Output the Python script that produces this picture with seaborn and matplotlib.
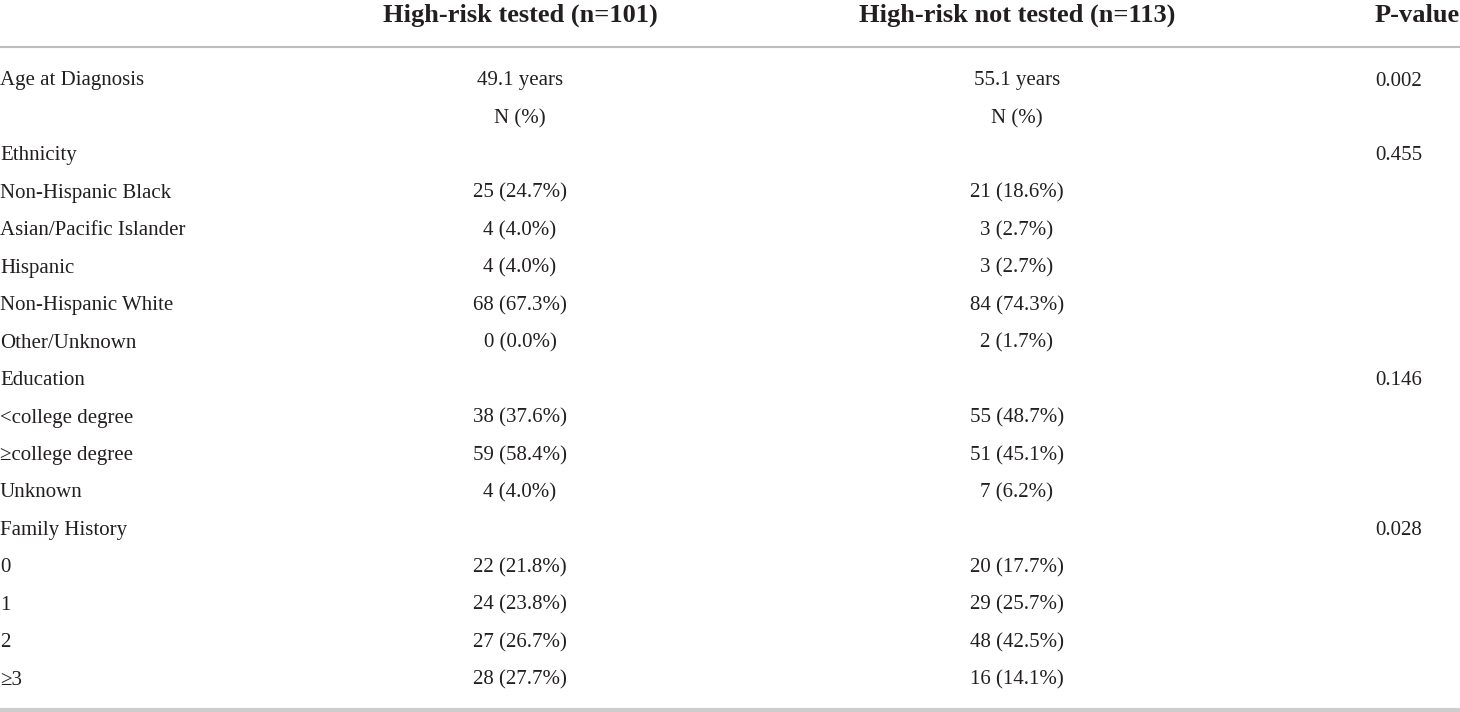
import matplotlib
matplotlib.use("Agg")
import matplotlib.pyplot as plt
import seaborn as sns

# table contents
headers = ["High-risk tested (n=101)", "High-risk not tested (n=113)", "P-value"]

row_labels = ["Age at Diagnosis", "", "Ethnicity", "Non-Hispanic Black",
              "Asian/Pacific Islander", "Hispanic", "Non-Hispanic White",
              "Other/Unknown", "Education", "<college degree",
              "\u2265college degree", "Unknown", "Family History",
              "0", "1", "2", "\u22653"]

tested = ["49.1 years", "N (%)", "", "25 (24.7%)", "4 (4.0%)", "4 (4.0%)",
          "68 (67.3%)", "0 (0.0%)", "", "38 (37.6%)", "59 (58.4%)",
          "4 (4.0%)", "", "22 (21.8%)", "24 (23.8%)", "27 (26.7%)",
          "28 (27.7%)"]

not_tested = ["55.1 years", "N (%)", "", "21 (18.6%)", "3 (2.7%)", "3 (2.7%)",
              "84 (74.3%)", "2 (1.7%)", "", "55 (48.7%)", "51 (45.1%)",
              "7 (6.2%)", "", "20 (17.7%)", "29 (25.7%)", "48 (42.5%)",
              "16 (14.1%)"]

p_values = ["0.002", "", "0.455", "", "", "", "", "", "0.146", "", "", "",
            "0.028", "", "", "", ""]

sns.set_style("white")
plt.rcParams['font.family'] = ['Liberation Serif', 'DejaVu Serif']

W, H = 1460, 712
fig = plt.figure(figsize=(W / 100, H / 100), dpi=100)
ax = fig.add_axes([0, 0, 1, 1])
ax.set_xlim(0, W)
ax.set_ylim(H, 0)
ax.axis("off")

txt = "#231f20"
x_label, x_c1, x_c2, x_p = 0, 520, 1017, 1375
y_head = 15
y0, dy = 81, 37.45
fs_body, fs_head = 15, 19

ax.text(x_c1, y_head, headers[0], ha="center", va="center",
        fontsize=fs_head, fontweight="bold", color=txt)
ax.text(x_c2, y_head, headers[1], ha="center", va="center",
        fontsize=fs_head, fontweight="bold", color=txt)
ax.text(x_p, y_head, headers[2], ha="left", va="center",
        fontsize=fs_head, fontweight="bold", color=txt)

ax.axhline(47, color="#bdbdbd", lw=1.5)
ax.axhline(710, color="#cccccc", lw=3)

for i in range(len(row_labels)):
    y = y0 + dy * i
    ax.text(x_label, y, row_labels[i], ha="left", va="center", fontsize=fs_body, color=txt)
    ax.text(x_c1, y, tested[i], ha="center", va="center", fontsize=fs_body, color=txt)
    ax.text(x_c2, y, not_tested[i], ha="center", va="center", fontsize=fs_body, color=txt)
    ax.text(x_p, y, p_values[i], ha="left", va="center", fontsize=fs_body, color=txt)

fig.savefig("out.png", dpi=100)
